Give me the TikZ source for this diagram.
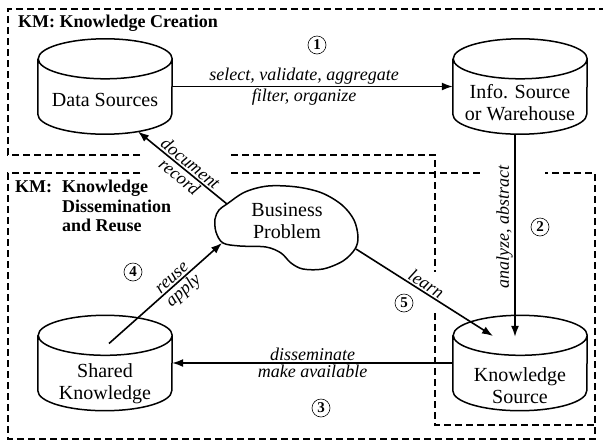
\documentclass[tikz,border=0pt]{standalone}
\usepackage{fontspec}
\setmainfont{Liberation Serif}
\usetikzlibrary{arrows.meta}
\newcommand\drawcylinder[1]{%
  \draw[outline] ([yshift=-20pt]#1.north west) -- ([yshift=20pt]#1.south west)
    arc[start angle=180,end angle=360,x radius=67pt,y radius=20pt]
    -- ([yshift=-20pt]#1.north east)
    arc[start angle=0,end angle=180,x radius=67pt,y radius=20pt]
    arc[start angle=180,end angle=360,x radius=67pt,y radius=20pt];}
\begin{document}
\begin{tikzpicture}[x=1pt,y=-1pt,
  box/.style={draw,line width=1.2pt,dash pattern=on 7pt off 4pt},
  cylbody/.style={minimum width=134pt,minimum height=95pt,inner sep=0pt,draw=none},
  cyltext/.style={font=\fontsize{20}{22}\selectfont,align=center,inner sep=0pt},
  lab/.style={font=\fontsize{18}{20}\selectfont\itshape,inner sep=1.5pt},
  num/.style={circle,draw,line width=0.6pt,inner sep=0pt,minimum size=18pt,font=\fontsize{15}{15}\selectfont\bfseries},
  arr/.style={line width=1.6pt,-{Latex[length=11pt,width=8pt]}},
  outline/.style={line width=1.5pt},
  title/.style={font=\fontsize{18}{19.5}\selectfont\bfseries,inner sep=0pt}
]
\useasboundingbox (0,0) rectangle (603,440);

% dashed regions
\draw[box] (140,155) -- (8,155) -- (8,9) -- (612,9);
\draw[box] (231,155) -- (435,155) -- (435,272);
\draw[box] (435,313) -- (435,425) -- (595,425);
\draw[box] (140,173) -- (8,173) -- (8,439) -- (595,439) -- (595,173) -- (545,173);
\draw[box] (231,173) -- (480,173);

% titles
\node[title,anchor=west] (t1) at (18,23) {KM: Knowledge Creation};
\node[title,anchor=north west] (t2) at (15,179)
  {\begin{tabular}{@{}l@{\hspace{10pt}}l@{}}KM: & Knowledge\\ & Dissemination\\ & and Reuse\end{tabular}};

% cylinders
\node[cylbody] (ds) at (105,86.5) {};
\node[cylbody] (is) at (520,86.5) {};
\node[cylbody] (sk) at (105,363) {};
\node[cylbody] (ks) at (520,363) {};
\drawcylinder{ds}
\drawcylinder{is}
\drawcylinder{sk}
\drawcylinder{ks}
\node[cyltext] (dst) at (105,100) {Data Sources};
\node[cyltext] (ist) at (520,103) {Info. Source\\or Warehouse};
\node[cyltext] (skt) at (105,384) {Shared\\Knowledge};
\node[cyltext] (kst) at (520,386) {Knowledge\\Source};

% business problem cloud
\draw[outline] plot[smooth cycle,tension=0.55] coordinates {
  (227,204) (245,192) (268,186) (297,187) (322,193) (342,205) (354,220)
  (358,237) (355,249) (343,261) (323,269) (303,269) (291,263) (281,253)
  (266,247) (240,246) (223,243) (216,232) (215,219) (219,210)};
\node[cyltext] (bp) at (287,221) {Business\\Problem};
\coordinate (bpdoc) at (227,204);
\coordinate (bpreuse) at (222,243);
\coordinate (bplearn) at (356,249);
\coordinate (dsdoc) at (138,131.5);
\coordinate (kslearn) at (493,336);
\coordinate (skreuse) at (109,343.5);

% connectors
\draw[arr] (ds.east) -- node[lab,above,pos=0.47] {select, validate, aggregate}
  node[lab,below,pos=0.47] {filter, organize} (is.west);
\draw[arr] ([xshift=-5pt]is.south) -- node[lab,rotate=90,anchor=south,pos=0.46] {analyze, abstract}
  ([xshift=-5pt,yshift=-21.5pt]ks.north);
\draw[arr] (ks.west) -- node[lab,above] {disseminate}
  node[lab,below] {make available} (sk.east);
\draw[arr] (bplearn) -- node[lab,sloped,above,pos=0.48] {learn} (kslearn);
\draw[arr] (skreuse) -- node[lab,sloped,above,pos=0.6] {reuse}
  node[lab,sloped,below,pos=0.6] {apply} (bpreuse);
\draw[arr] (bpdoc) -- node[lab,sloped,above,pos=0.47] {document}
  node[lab,sloped,below,pos=0.47] {record} (dsdoc);

% step numbers
\node[num] (n1) at (317,45) {1};
\node[num] (n2) at (540,227) {2};
\node[num] (n3) at (321,408) {3};
\node[num] (n4) at (133,272) {4};
\node[num] (n5) at (404,303) {5};
\end{tikzpicture}
\end{document}
